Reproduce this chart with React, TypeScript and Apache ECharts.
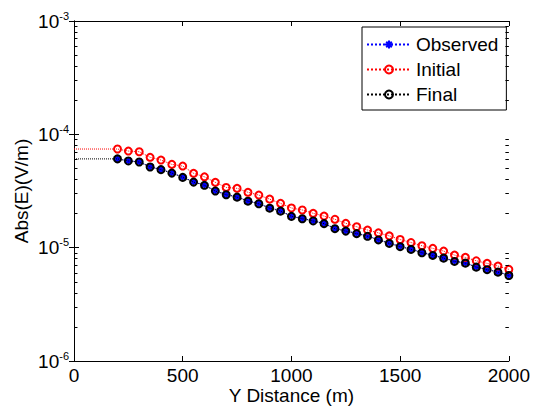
import React, { useEffect, useRef } from "react";
import * as echarts from "echarts";

const xValues = [200, 250, 300, 350, 400, 450, 500, 550, 600, 650, 700, 750, 800, 850, 900, 950, 1000, 1050, 1100, 1150, 1200, 1250, 1300, 1350, 1400, 1450, 1500, 1550, 1600, 1650, 1700, 1750, 1800, 1850, 1900, 1950, 2000];

const observed = [6.07e-5, 5.85e-5, 5.73e-5, 5.18e-5, 4.91e-5, 4.58e-5, 4.2e-5, 3.82e-5, 3.57e-5, 3.18e-5, 2.95e-5, 2.81e-5, 2.59e-5, 2.46e-5, 2.25e-5, 2.12e-5, 1.9e-5, 1.81e-5, 1.73e-5, 1.64e-5, 1.48e-5, 1.41e-5, 1.34e-5, 1.27e-5, 1.18e-5, 1.1e-5, 1.03e-5, 9.72e-6, 9.09e-6, 8.6e-6, 8.14e-6, 7.62e-6, 7.36e-6, 6.78e-6, 6.44e-6, 6.13e-6, 5.73e-6];

const initial = [7.42e-5, 7.12e-5, 7.02e-5, 6.27e-5, 5.93e-5, 5.43e-5, 5.25e-5, 4.53e-5, 4.22e-5, 3.77e-5, 3.4e-5, 3.34e-5, 3.08e-5, 2.91e-5, 2.68e-5, 2.46e-5, 2.24e-5, 2.15e-5, 2.01e-5, 1.9e-5, 1.78e-5, 1.64e-5, 1.53e-5, 1.43e-5, 1.35e-5, 1.27e-5, 1.18e-5, 1.11e-5, 1.04e-5, 9.86e-6, 9.33e-6, 8.6e-6, 8.21e-6, 7.66e-6, 7.27e-6, 6.88e-6, 6.44e-6];

const finalV = [6.07e-5, 5.82e-5, 5.7e-5, 5.15e-5, 4.88e-5, 4.55e-5, 4.17e-5, 3.79e-5, 3.55e-5, 3.16e-5, 2.93e-5, 2.79e-5, 2.57e-5, 2.44e-5, 2.23e-5, 2.1e-5, 1.89e-5, 1.8e-5, 1.72e-5, 1.63e-5, 1.47e-5, 1.4e-5, 1.33e-5, 1.26e-5, 1.17e-5, 1.09e-5, 1.02e-5, 9.65e-6, 9.02e-6, 8.54e-6, 8.08e-6, 7.56e-6, 7.3e-6, 6.73e-6, 6.39e-6, 6.08e-6, 5.68e-6];

const minorTickValues = [
  2e-6, 3e-6, 4e-6, 5e-6, 6e-6, 7e-6, 8e-6, 9e-6,
  2e-5, 3e-5, 4e-5, 5e-5, 6e-5, 7e-5, 8e-5, 9e-5,
  2e-4, 3e-4, 4e-4, 5e-4, 6e-4, 7e-4, 8e-4, 9e-4,
];

const seriesNames = ["Observed", "Initial", "Final"];
const xName = "Y Distance (m)";
const yName = "Abs(E)(V/m)";

const FONT = "Liberation Sans, Arial, sans-serif";
const FS = 19;

const ASTERISK =
  "path://M0 7.5L20 7.5L20 12.5L0 12.5Z M7.5 0L12.5 0L12.5 20L7.5 20Z M4.8 1.3L18.7 15.2L15.2 18.7L1.3 4.8Z M18.7 4.8L4.8 18.7L1.3 15.2L15.2 1.3Z";

function buildData(vals: number[], withLead: boolean) {
  const d: any[] = withLead ? [{ value: [0, vals[0]], symbol: "none" }] : [];
  xValues.forEach((x, i) => d.push([x, vals[i]]));
  return d;
}

const minorTickLines: any[] = [];
minorTickValues.forEach((v) => {
  minorTickLines.push([{ coord: [0, v] }, { coord: [16, v] }]);
  minorTickLines.push([{ coord: [1984, v] }, { coord: [2000, v] }]);
});

export default function App() {
  const ref = useRef<HTMLDivElement>(null);
  useEffect(() => {
    if (!ref.current) return;
    const chart = echarts.init(ref.current, undefined, { renderer: "svg" });
    const axisLine = { show: true, lineStyle: { color: "#000", width: 1 } };
    const tick = { show: true, inside: true, length: 5, lineStyle: { color: "#000" } };
    const option: any = {
      animation: false,
      backgroundColor: "#fff",
      textStyle: { fontFamily: FONT },
      grid: { left: 74, right: 22, top: 21, bottom: 49 },
      legend: {
        data: seriesNames,
        orient: "vertical",
        left: 362,
        top: 27,
        backgroundColor: "#fff",
        borderColor: "#000",
        borderWidth: 1,
        borderRadius: 0,
        padding: [8, 8, 6, 4],
        itemWidth: 44,
        itemHeight: 10,
        itemGap: 6,
        textStyle: { fontSize: FS, fontFamily: FONT, color: "#000", lineHeight: 18 },
      },
      xAxis: [
        {
          type: "value",
          min: 0,
          max: 2000,
          interval: 500,
          name: xName,
          nameLocation: "middle",
          nameGap: 25,
          nameMoveOverlap: false,
          nameTextStyle: { fontSize: FS, fontFamily: FONT, color: "#000", lineHeight: 19 },
          axisLine,
          axisTick: tick,
          axisLabel: { fontSize: FS, fontFamily: FONT, color: "#000", margin: 5, lineHeight: 19, formatter: (v: number) => String(v) },
          splitLine: { show: false },
        },
        {
          type: "value",
          position: "top",
          min: 0,
          max: 2000,
          interval: 500,
          axisLine,
          axisTick: tick,
          axisLabel: { show: false },
          splitLine: { show: false },
        },
      ],
      yAxis: [
        {
          type: "log",
          logBase: 10,
          min: 1e-6,
          max: 1e-3,
          name: yName,
          nameLocation: "middle",
          nameRotate: 90,
          nameGap: 43,
          nameMoveOverlap: false,
          nameTextStyle: { fontSize: FS, fontFamily: FONT, color: "#000" },
          axisLine,
          axisTick: tick,
          axisLabel: {
            margin: 5,
            formatter: (v: number) => `{b|10}{s|${Math.round(Math.log10(v))}}`,
            rich: {
              b: { fontSize: FS, fontFamily: FONT, color: "#000", lineHeight: 22 },
              s: { fontSize: 11, fontFamily: FONT, color: "#000", verticalAlign: "top", lineHeight: 22 },
            },
          },
          splitLine: { show: false },
        },
        {
          type: "log",
          logBase: 10,
          min: 1e-6,
          max: 1e-3,
          position: "right",
          axisLine,
          axisTick: tick,
          axisLabel: { show: false },
          splitLine: { show: false },
        },
      ],
      series: [
        {
          name: "Observed",
          type: "line",
          data: buildData(observed, false),
          symbol: ASTERISK,
          symbolSize: 7,
          showAllSymbol: true,
          itemStyle: { color: "#0000ff" },
          lineStyle: { color: "#0000ff", width: 1, type: "dotted" },
          z: 2,
          markLine: {
            silent: true,
            symbol: ["none", "none"],
            label: { show: false },
            lineStyle: { color: "#000", width: 1, type: "solid" },
            emphasis: { disabled: true },
            data: minorTickLines,
          },
        },
        {
          name: "Initial",
          type: "line",
          data: buildData(initial, true),
          symbol: "circle",
          symbolSize: 7,
          showAllSymbol: true,
          itemStyle: { color: "rgba(0,0,0,0)", borderColor: "#ff0000", borderWidth: 2 },
          lineStyle: { color: "#ff0000", width: 1, type: "dotted" },
          z: 3,
        },
        {
          name: "Final",
          type: "line",
          data: buildData(finalV, true),
          symbol: "circle",
          symbolSize: 7,
          showAllSymbol: true,
          itemStyle: { color: "rgba(0,0,0,0)", borderColor: "#000", borderWidth: 2 },
          lineStyle: { color: "#000", width: 1, type: "dotted" },
          z: 4,
        },
      ],
    };
    chart.setOption(option);
    return () => chart.dispose();
  }, []);
  return <div ref={ref} style={{ position: "absolute", left: 0, top: 0, width: 533, height: 410 }} />;
}
